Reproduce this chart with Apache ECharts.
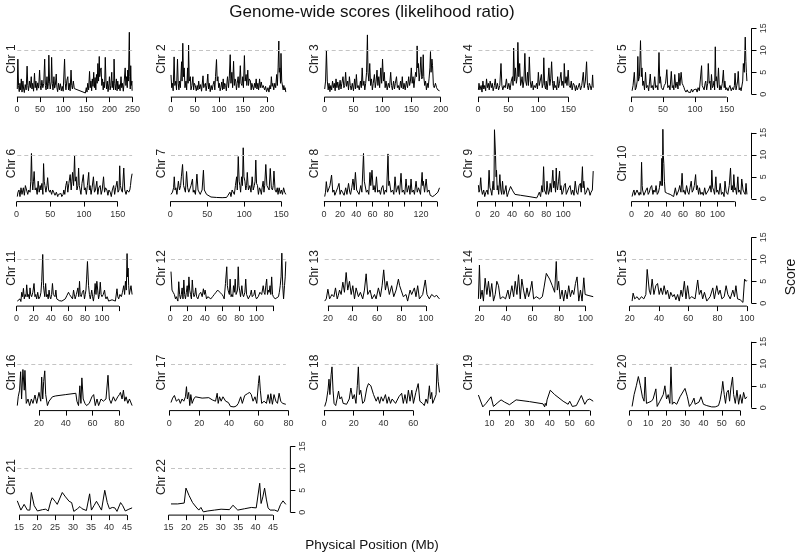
<!DOCTYPE html>
<html><head><meta charset="utf-8">
<script src="https://cdn.jsdelivr.net/npm/echarts@6/dist/echarts.min.js"></script>
<style>html,body{margin:0;padding:0;background:#fff}#c{width:800px;height:555px}</style>
</head><body><div id="c"></div>
<script>
// ---------------- DATA: [position (Mb), score] ----------------
const chr1 = [[0.8,1.2],[2,8],[3.5,2],[5,0.6],[6.5,2.5],[8,1],[9.5,3.5],[11,0.5],[13,3],[14.5,1.2],[16,0.4],[18,2.2],[20,1],[22,6.4],[23.5,2],[25,0.8],[27,3],[29,1.5],[31,4],[32.5,1.2],[34,2.5],[36,0.7],[38,4.8],[39.5,1.5],[41,3],[43,0.9],[45,2.6],[47,1.4],[49,5.5],[50.5,2],[52,1],[54,3.2],[56,1.5],[58,2.5],[60,8],[61.5,2],[63,1],[65,4],[66.5,1.2],[68,2.5],[69,8.9],[70.5,3],[72,1.2],[74,2.8],[75,8.4],[76.5,2.4],[78,1],[80,4],[81.5,1.4],[83,2],[85,4.6],[86.5,1.5],[88,0.6],[90,2.5],[92,1],[94,2.4],[96,0.8],[98,1.8],[100,0.7],[103,8],[104.5,2.5],[106,1],[108,3.2],[110,4],[111.5,1],[113,2.5],[115,0.8],[117,5.5],[118.5,2],[120,1.2],[122,3],[124,1.3],[148,0.3],[150,1.5],[151.5,0.5],[153,2.5],[155,1],[157,5.2],[158.5,1.5],[160,3],[161.5,0.8],[163,3.5],[164.5,1.8],[166,5],[167.5,1.5],[169,3.8],[170.5,1],[172,4.5],[173.5,2.5],[175,7],[176.5,3],[178,8.6],[179,4],[180.5,5.5],[182,6],[183.5,2],[185,3.5],[186.5,1],[188,2.8],[189.5,1.5],[191,8.4],[192.5,3],[194,1.2],[195.5,3],[197,0.6],[199,2.5],[200,4],[201.5,1],[203,2],[205,5],[206,1.5],[207.5,3],[209,1],[210,8],[211.5,2.5],[213,1],[215,3.5],[216.5,0.8],[218,3],[219.5,1.2],[221,2.2],[223,0.8],[225,4],[226.5,1.5],[228,2.5],[230,0.7],[232,3],[234,6],[235.5,2],[237,4],[238.5,1.5],[239.5,5.5],[241,3],[243,14.1],[244,4],[245,1.2],[246,6.5],[247,2],[248.5,3],[249,0.8]];
const chr2 = [[0.5,4.4],[2,1.5],[3.5,2.5],[5,0.8],[7,8.5],[8.5,2],[10.5,3],[12,1],[14,8],[15.5,2.5],[17,1],[18,3],[20,1.5],[22.5,7.4],[23.5,3],[25,11.6],[26.5,4],[28,6],[29.5,1.5],[31.6,3],[33,1],[35,6],[36,2.5],[37,11.2],[38.5,3],[40.7,4],[42,1],[44,2],[46,4],[47.5,1],[49,2.5],[51,2],[53,0.8],[55,2],[56.5,1],[58,3],[60,1.2],[62,2.2],[64,0.7],[67,4.2],[68.5,1.5],[70,2],[72,2.5],[73.5,0.8],[75,2],[77,4.6],[78.5,1.2],[80,2.5],[82,0.6],[84,2],[86,1],[88,2.2],[90,3],[91.5,1],[93,4],[95,7.9],[96.5,3],[98,4],[99.5,1.5],[101,2.5],[102.5,0.8],[104,1.5],[106,2.8],[107.5,1],[109,3.5],[110.5,1.2],[112,2.5],[114,2],[115.5,0.8],[117,3],[118,4],[120,1.5],[121.5,3.5],[123.5,9],[125,2.5],[127,5],[128.5,1.5],[130.5,7.5],[132,2],[133.5,3.5],[135,3],[136.5,1],[138,2.5],[140,4],[141.5,1.5],[143,3],[144.5,6.5],[146,2.5],[148,2],[149.5,4],[151,1.5],[153,8.8],[154.5,3],[156.5,4.5],[158,2],[160,5.5],[161.5,2],[163,3.5],[165.6,3],[167,1],[168.5,2.5],[170.5,2.5],[172,1],[174,2.5],[175.5,1.5],[177.5,3.5],[179,1.2],[181,2.5],[182.5,1],[184.5,3.5],[186,1.5],[188,2.8],[190,1.5],[192,2],[195,1],[197,1.8],[199,0.6],[202,1.5],[204,0.5],[206,2],[207.5,1.2],[209,4],[210.5,1.8],[212,2.5],[214,1],[216,2.5],[218,1.5],[220,4.5],[221.5,2],[223,6],[224.5,12.1],[225.5,5],[226.7,6],[228,2.5],[229,9.3],[230.5,3],[232,3],[233.5,1],[235,2],[236,1],[237.5,1.5],[239,0.5]];
const chr3 = [[0.5,1.2],[2,3],[3.5,9.9],[5,3],[6.5,1],[8,2.5],[9.5,0.6],[11,2],[12.5,1],[14,3],[15.5,1.5],[17,2.5],[18.5,0.8],[20,3.5],[21.5,1.5],[23,2.8],[25,1],[27,3.2],[28.5,1.2],[30,2.5],[32,4],[33.5,1.5],[35,2],[36.5,5],[38,1.8],[40,3],[41.5,1],[43,4],[44.5,2],[46,1],[48,2.5],[50,0.8],[52,3.5],[53.5,1.2],[55,4.5],[56.5,1.5],[58,2],[60,1],[62,3],[63.5,1.5],[65,6],[66.5,2],[68,3],[69.5,1],[71,2.5],[72.5,5],[74,13.5],[75,5],[76.5,3],[78,7],[79.5,2],[81,3.5],[82.5,1],[84,2.5],[86,4.5],[87.5,1.5],[89,3],[90.5,5.5],[92,2],[93.5,4],[95,1.5],[97,6],[98.5,2.5],[100,8],[101.5,3],[103,5],[104.5,1.5],[106,3],[108,1],[110,2.5],[112,1.5],[114,5],[115.5,2],[117,1],[119,3],[120.5,1.2],[122,2.5],[124,4],[125.5,1.5],[127,2],[129,1],[131,3],[132.5,1.5],[134,4],[135.5,1.2],[137,2.5],[139,1],[141,3],[143,1.5],[145,4],[146.5,2],[148,3],[149.5,6],[151,2.5],[152.5,4],[154,1.5],[155.5,3.5],[157,5],[158.5,4],[159.5,11],[160.5,6],[161.6,7],[163,3],[164.5,5],[166,8.5],[167.5,3.5],[169,4],[170,9],[171,4],[172.5,2],[174,3],[175.5,1],[177,2.5],[178.5,1.5],[180,3.5],[181.5,6],[182.5,9.7],[183.5,5],[185,8],[186,6.5],[187.5,2],[189,1.5],[191,2.5],[193,1.5],[195,1],[196.5,1.2],[198,0.8]];
const chr4 = [[0.5,1],[1.5,2.5],[3,1],[5,2],[6.5,0.5],[8,3],[9.5,1.2],[11,2],[12.5,0.8],[14,3.5],[15.5,1.5],[17,2.5],[18.5,1],[20,3],[22,1.5],[23.5,2.5],[25,0.8],[27,2],[28.5,3.5],[30,1.2],[32,2.5],[34,1],[36,2],[38,7],[39.5,2],[41,1],[43,2],[45,1.5],[47,3.5],[49,1.2],[51,2.5],[53,1],[55,3],[57,4],[58,2],[59,10.5],[60.5,3],[62,6],[63.5,2.5],[65,4],[66,11.8],[67.5,4],[69,7],[70.5,2],[72,3],[73,4],[74.5,1.5],[76,3],[77.6,9.3],[79,3],[80.5,2],[82,5],[83.5,2],[85,8.5],[86.5,3],[88,1.5],[90,3],[91.5,1],[93,2],[95,1.5],[97,2.5],[98.5,1.2],[100,5],[101.5,2],[103,3],[105,4.5],[106.5,1.5],[108,2.5],[109,8.3],[110.5,2],[112,1.2],[113,3],[114.5,1],[116,3],[117.5,6],[119,2],[120.5,3.5],[122,7.4],[123.5,2.5],[125,1],[126,3],[127.5,1.5],[129,2],[130.5,1],[132,4],[133.5,1.5],[135,2.5],[137.5,5],[139,2],[140.5,3],[142,1.5],[143,7],[144.5,2.5],[146,4],[147.5,2],[149.5,5.5],[151,2],[153,1.5],[154.6,3],[156,1],[158,2.5],[160,2],[161.5,0.8],[163,2],[164.5,1],[166,1.5],[168,2.5],[170,1],[172,2],[174.6,5],[176,1.5],[178,3],[180,7.4],[181.5,2],[183,1],[184.5,2.5],[186,2],[187.5,1],[189,2],[190,4.4],[191,1.5]];
const chr5 = [[1.5,0.8],[3,2],[5,5],[6.5,1],[8,1.5],[9.5,3],[10.5,8.6],[11.5,3],[13,4],[14.7,12.2],[16,4],[17,6],[18.3,2],[19.5,3],[21,1],[22.6,5],[24,1.5],[26,2],[27.5,0.8],[29,3],[30,4.6],[31.5,1.5],[33,2],[35,1],[37,4],[38.5,1.5],[40.5,2],[42,1],[43.7,9.5],[45,2.5],[45.8,4],[47.5,1.5],[50,1],[52,2],[54,2.5],[56,5.6],[57.5,1.5],[59.5,2],[61,1],[63,5.2],[64.5,1.5],[66,2],[67,1],[68.4,4.5],[70,1.5],[72,2.8],[73.5,1.2],[75,4.8],[76.5,2],[78.4,5],[80,2.5],[81.6,2],[83,1.5],[84,1],[86,0.5],[88,1],[89.5,0.5],[91,0.8],[93,0.4],[94.7,1.2],[96.5,0.5],[98,1],[100,0.8],[102,1.2],[103.5,0.5],[105,1.5],[107,0.8],[109,1],[110.5,6.5],[111.5,2],[113,2],[114.5,1],[116,2.5],[117,3],[118.5,1],[120,2.5],[121,7],[122.5,2.5],[123.7,3],[125,1],[126,4.5],[127.5,1.5],[129,2],[130,3],[131,1],[132,10.8],[133,3],[134,4],[135.5,1.5],[137,6],[138.5,1],[139.5,2],[141,1],[143,2.5],[144.7,5.5],[146,1.5],[147,3],[148.5,1],[150,1.5],[152,0.8],[153.5,1.5],[155,2],[157,0.8],[159,1.5],[160.5,1],[162,2],[163,4.8],[164.5,1],[165.8,2],[167,3],[168,5.2],[169.5,1],[171,1.5],[172.5,0.8],[173.7,0.5],[175,3],[176,7],[177.5,5],[179,13],[180,7.5],[180.8,5],[181.6,3]];
const chr6 = [[1,0.5],[2,1.5],[3.5,2],[5,0.5],[6.5,2.5],[8,1],[10,2.5],[11.5,0.8],[13,3],[15,3],[16.5,1],[18,2],[20,1.5],[21,4],[22,10.3],[23,4],[24,2],[25,4],[26,6.2],[27.5,2],[29,2.5],[30.5,1],[32,4],[33.5,1.5],[35,3],[36,2],[37.5,3.5],[39,1],[40,8],[41,4],[42,3],[43.5,1.5],[45,3],[46,4.8],[47.5,2],[49,1.5],[50,2],[52,1],[53.5,2],[55,1.5],[57,0.8],[59,1.5],[61,0.5],[62,1],[64,0.6],[66,1.2],[67,0.5],[69,1],[70,2],[71.5,1],[73,3],[74.5,4],[76,1.5],[77.5,3.5],[79.5,5.5],[81,2],[82,4],[83,6],[84.5,3],[86,9.7],[87,4],[88.4,5],[89.5,2],[91,3],[92,7],[93,3],[94.4,3],[95.5,1],[97,3.5],[99,5.5],[100.5,2],[102,2.5],[103.5,1],[105,3],[107,6],[108,2],[109,3],[110.5,1],[112,2.5],[114,5],[115.5,1.5],[117,2],[119,4],[120.5,1],[122,2.5],[124,3],[125.5,1],[127,2],[129,5],[130.5,1.5],[132,2.5],[134,2],[135.5,0.8],[137,2],[139,1.5],[140.5,0.5],[142,2],[144,3],[145.5,1],[147,2.5],[149,4],[150.5,1.5],[152,2],[153,7.5],[154,3],[155.5,2],[157,1.5],[159,7],[160.5,2],[162.4,1],[164,2],[166.4,1.5],[168,2],[169,3],[170,4.5],[171.4,5.7]];
const chr7 = [[1,1],[3,1.5],[4.5,2.5],[5.4,5],[6.5,2],[7.6,2.5],[9,1],[11,4],[12.5,2],[14,3],[15,5],[16.6,7.8],[18,3],[19,3],[20.5,1.5],[22,6.2],[23.5,2.5],[25,1.5],[26,2],[28,3],[30,4.5],[31,1.5],[32,2],[34,1],[36,5.6],[37.5,2],[39,2],[40.5,1],[41.6,1.5],[43,2],[44.8,6.5],[46,2],[47,2],[49,1],[51.5,0.6],[55,0.4],[62.7,0.3],[70,0.25],[76,0.3],[78,0.8],[80.6,1.5],[82,0.5],[83.5,2],[85,2],[86.5,1],[88,3],[89.6,5],[90.5,2],[91.8,9.6],[93,4],[94,3],[95,1.5],[96.3,5],[97.5,3],[98.5,11.6],[99.5,5],[100.8,4],[102,2],[103,3],[104,6],[105.5,2],[107.5,3],[109,1.5],[110.6,5],[112,2],[113.5,3],[114.5,4],[115.5,8.8],[116.5,3.5],[117.8,3],[119,1],[120.5,2.5],[121.8,2],[123,1],[124,2.5],[125.4,4],[126.5,1.5],[127.5,3],[129,7.8],[130.5,3],[132,3],[133.5,2],[135,6.9],[136.5,2.5],[138,2],[139,3],[140,6.3],[141.5,2],[143,1.5],[144.5,2.5],[145.5,1],[147,2.5],[148.5,1.2],[150,2],[151.5,1],[153,2.5],[154.5,1.5],[156,1]];
const chr8 = [[1,0.5],[2,1.5],[3,3.9],[4.5,1.5],[6,1.5],[7.5,3],[9.5,5.4],[11,1.5],[12.4,2],[13.5,0.8],[15,1],[17,2.5],[18.7,3.5],[20,1],[21.5,2],[23,1.5],[25,0.8],[27,2.5],[28.5,1],[30.5,3.5],[32,1.5],[33,1],[34.5,2.5],[36,4.5],[37.5,2],[39,6],[40.5,2],[42,2],[43.5,1],[45.6,3],[47,1.5],[49,10.3],[50,4],[51,4],[52.5,1.5],[54,2],[55.5,1],[57,6],[58,3],[59.5,6.5],[61,2],[62,3],[63.5,1.5],[65,5],[66.5,1.5],[68.5,2],[70,1],[71.5,2.5],[73,3],[74.5,1],[76,2],[77.5,1.5],[79.3,10.2],[80.3,3],[81,4],[83,1.5],[85,2],[86.5,1],[88,5],[89.5,1.5],[91,2.5],[92,3],[93.5,1],[95.4,5.8],[96.8,1.5],[98.3,2],[100,1],[101.6,4.5],[103,1.5],[105,3],[106.5,1],[107.8,4.5],[109,1.5],[110.7,2],[112,1],[114,4],[115.5,1.5],[117,2.5],[118,2],[119.5,1],[121.5,6],[122.3,3],[123,4],[124.5,1.5],[126.5,4.5],[128,1.5],[130,2],[131.5,0.8],[132.7,1],[134.5,0.5],[137,0.8],[139,1],[141,1.5],[143,2.5]];
const chr9 = [[0.8,3.1],[1.5,1.5],[2.4,2],[3.5,4.8],[4.5,2],[5.5,1],[7,2],[8.2,0.5],[9.5,1.5],[11,2],[12,1],[13.3,6.5],[14.3,2.5],[15.3,2],[16.5,0.8],[18,4],[19,2],[19.6,15.7],[20.8,10],[21.5,5],[22,6.5],[22.8,2],[23.5,3],[24.5,1],[25.9,5.5],[27,2],[28,1],[29,4],[30,1.5],[30.6,1],[32,2],[33,3],[34,1],[34.5,0.5],[36,1.5],[38.4,2.8],[41,1.8],[43.5,1],[50,0.8],[60,0.5],[69,0.2],[70.5,0.8],[72,1.5],[73.5,0.5],[75,3],[76,1.5],[77,7.3],[78,2],[79,2],[80,1],[81,4],[82,2],[82.7,1],[84,2],[84.7,3.5],[86,1.5],[87.8,6.5],[88.8,2.5],[89.8,4],[91,1.5],[91.8,7],[92.5,3],[93.3,2],[94.5,4],[95.7,6.3],[96.5,2],[97.3,3],[98.5,1],[99.6,1.5],[101,3],[102.4,3.5],[103.5,1],[105,1],[106.5,2.5],[108,3],[109.5,1],[111,2],[112.5,0.8],[114,4],[115.5,1.5],[117,1],[118.5,3],[120,3.5],[121,1.5],[122.4,7.3],[123.2,2.5],[124,4],[125.5,1],[127,1.5],[128.5,2.5],[130,2],[131.3,0.8],[132.5,1.5],[134,2],[135,6.3]];
const chr10 = [[0.8,0.5],[2,1.5],[3,2],[4,0.8],[5,1],[6.5,2],[8,2.4],[9,0.8],[10,1.5],[11,1],[11.8,8.3],[12.5,3],[13,2],[14.5,0.8],[15.7,1],[17,2],[18.4,2.5],[19.5,1],[20.8,1.5],[22,2.5],[23.5,3],[25,1],[26,2],[27.5,1.5],[28.6,3],[30,1],[31.4,1.5],[32.5,2.5],[33.3,4],[34.5,3],[35.3,9.2],[36,3],[36.5,15.8],[37,10],[37.6,8],[38.3,4],[39.2,1.5],[42,1.2],[45,1],[49,0.5],[51,2.5],[52.5,0.8],[53.7,1],[55,2],[56,3],[57.5,1.5],[58.8,5.8],[60,1.5],[60.8,2],[62.5,1],[64,3],[65.5,1.5],[66.7,1],[68,2.5],[69.4,4],[70.5,1.5],[71.8,2],[73,3],[74.5,5.5],[75.5,2],[76.5,3],[78,1],[79,2.5],[80.5,1],[82,1.5],[83.5,0.8],[85,2.5],[86.5,1],[88,1],[89.5,2],[91.4,3],[92.5,1.5],[93.3,6.5],[94.3,2.5],[95.3,2],[96.5,1],[98,5],[99,1.5],[100,2],[101.5,1],[103,3.5],[104.5,1],[106,1.5],[107.5,0.5],[108.6,4],[110,1.5],[111.8,1],[113.5,3],[115,7],[116,2],[117,3],[118,1.5],[118.8,5.5],[120,2],[120.8,2.5],[122,1],[123.5,5],[124.5,1.5],[125.5,2],[127,1],[128,4.5],[129.5,2],[130.6,1.5],[132,1],[133,3.5],[134,1]];
const chr11 = [[0.8,0.5],[2.5,0.8],[4,1],[5,0.4],[6,2.5],[7,1.5],[8,3.4],[9,1],[10,2],[11,1.5],[11.8,4.2],[13,1.5],[13.7,2],[15,1],[15.7,3.5],[16.5,2],[17.6,1.5],[19,2.5],[20.4,4.5],[21.5,1.5],[22.4,2],[23.5,1],[24.7,2.5],[26,1],[27.5,1.5],[28.5,2.5],[29.4,5],[30.6,11.1],[31.5,4],[32,3],[33,1.5],[34,4.5],[35,1.5],[36,2],[37,1],[38,3],[39,1.5],[40,1],[41,2],[42,4.5],[43,2],[44,2],[45,1.5],[46,3],[47,1],[48,1],[50,0.6],[53,0.5],[55,0.7],[57,1],[59,1.8],[60.8,2.5],[62,2],[64,2],[65.5,1],[66.7,3],[68,1.5],[68.6,1],[70,2],[71.8,3.5],[72.8,1.5],[73.7,5],[74.5,2],[75.7,1.5],[77,2.5],[78.4,3],[79.5,1],[80.4,2],[81.2,3],[82,5.5],[83,9.5],[84.3,4],[85.3,2],[86.3,1],[87.2,2],[88,3],[89,1.5],[90,0.5],[91,2],[92,4.5],[93,2],[94,5],[95,3],[96,1],[97,2],[98,4.8],[99,2],[100,1.5],[101.5,2],[103,3],[104,1.5],[104.7,1],[106,1.5],[107.8,0.5],[110,0.7],[111.8,0.8],[114,0.6],[115.7,0.5],[117.6,3.3],[118.5,1.5],[119.6,1],[121,2],[122.7,1.5],[124,2.5],[125.5,4],[126.5,2],[127.5,5],[128.5,3],[129.4,11.3],[130,6],[130.6,8],[131.3,4],[132,2],[133,2],[134,4],[135.3,2]];
const chr12 = [[0.8,7.2],[2,3],[3.3,2.5],[4.7,2],[6,1],[7,1.5],[7.8,1.5],[8.8,0.5],[9.8,4.9],[10.8,2],[11.8,1],[12.8,2],[13.7,3.5],[14.7,1],[15.7,5.3],[16.6,2],[17.6,1],[18.6,2.5],[19.6,4],[20.6,1.5],[21.6,6],[22.5,3],[23.5,2],[24.5,1],[25.5,5.3],[26.5,2.5],[27.5,1.5],[28.5,2],[29.4,3.5],[30.5,1.5],[32,1],[33.5,2],[35.3,2.5],[37,1.5],[38.4,3.3],[39.5,2],[40.4,3],[41.2,2],[42,1],[43.5,1.5],[45,1.3],[47,1],[49,1.5],[51,2],[53,2.5],[55,3],[56,3],[57.5,2.5],[58.8,2.5],[60,2],[61.6,1.5],[62.5,1],[64,4.5],[65.5,8.3],[66.2,4],[67,3],[68.5,2],[69.4,5.5],[70.5,1.5],[71.4,2],[72.5,1.5],[73.3,4],[74.3,2.5],[75.3,5.5],[76.3,2],[77.3,2],[78,3],[78.8,8.3],[79.6,4],[80.4,3],[81.5,1.5],[83,4],[84,2],[85,1.5],[86.5,2.5],[87.5,5.5],[88.5,2],[89.4,2],[90.5,1],[92,1],[93,2],[94,3],[95,1.5],[96,1.5],[97,2],[98,3],[99,1.5],[100,1],[102,1.5],[104,2.5],[106,2],[107.8,4],[108.8,2.5],[109.8,2],[110.8,4],[111.8,5.5],[112.8,2],[113.7,3],[114.7,2.5],[115.7,4],[116.6,2],[117.6,6],[118.6,2],[119.6,1.5],[121.6,1],[123.5,1.3],[125.5,1.5],[126.5,2.5],[127.5,4],[128.5,6],[129.4,11.4],[130.4,4],[131.4,1],[132.5,4],[133.3,6],[134,9.5]];
const chr13 = [[17.4,0.5],[18.7,1],[20,3.2],[21.4,1],[22.3,1.5],[23.3,2],[24.9,1.5],[26.2,3.5],[27.6,1],[28.5,1.8],[29.5,3],[30.8,2],[32.2,4.8],[33.5,2.5],[34.9,7],[36.2,3],[37.6,5],[39,2],[40.3,4],[41.7,1],[43,3.5],[44.9,1.5],[46.5,2.5],[48.4,1],[49.8,3],[51.2,6.7],[52.5,2],[54.4,3],[56,1],[58,2],[59.3,1],[61.2,3.5],[62.8,1.5],[64.2,4],[65.5,7.6],[66.9,3],[68.2,5],[70.1,2],[72,4],[73.7,1.5],[75.6,3],[77.5,5.5],[78.5,4],[79.7,3],[81.5,1.5],[83.7,2],[85,0.5],[87,3],[88.3,2],[90.5,3.5],[91.8,1.5],[93.2,4],[94.6,1],[96,1.5],[97.3,2],[99.4,5.3],[100.8,2],[102.7,1],[104.6,2],[106.8,1.5],[108.7,1.8],[110.3,1.2],[111,1]];
const chr14 = [[19.2,1],[20,8.7],[20.8,1],[22,3],[23,0.5],[24.3,5.7],[25.6,2],[26.8,5],[28,1.5],[29.3,4.5],[30.6,0.5],[31.9,2],[33.1,5],[34.4,4],[35.7,1],[37.7,1.5],[39.7,1],[41.5,3],[42.7,1],[44.5,4],[45.8,1.5],[47,5],[48.3,2],[49.5,6.5],[50.8,1],[52,5.5],[53.3,3],[54.6,1],[55.9,3.5],[57.1,1.5],[58.4,3],[59.6,5],[60.9,1],[62.9,1.5],[65.5,1],[67.5,1.5],[68.7,3.5],[70.5,6.8],[73,5.5],[75,4],[76.8,2.5],[78,9.5],[78.8,3],[79.8,5],[81,1],[82.4,3],[83.6,0.5],[84.9,3],[86.2,1],[87.4,4],[88.7,1.5],[90,3],[91.2,2],[92.5,4.5],[93.7,6],[95,0.5],[96.3,3],[97.5,0.5],[98.8,5.8],[99.8,2],[102,1.8],[105.9,1.5]];
const chr15 = [[21.6,0.5],[22.3,2.3],[23.4,1],[25,1.5],[26.4,0.8],[28,1.5],[29.6,1],[31,2],[31.9,7.7],[33.3,3],[34.2,2],[35.3,5.5],[36.5,2],[37.8,4],[39,4.5],[40.1,2],[41.3,3.5],[42.4,2],[43.5,4],[44.7,2],[45.8,3],[47,1],[48,2.5],[49.3,1.5],[50.4,2],[51.5,0.8],[52.7,2],[53.8,0.5],[55,3],[56,1.5],[57.3,5],[58.4,1],[59.5,4],[60.7,1],[62.3,1.5],[64.6,1],[66.4,5.3],[67.5,2],[68.7,3],[69.8,1],[71,2.5],[72.6,0.5],[74.9,1.5],[76.7,3.5],[77.8,1],[79.4,4],[80.6,2],[81.7,3],[82.9,1],[84.5,1.5],[85.8,4],[87,2],[88.6,1],[90.4,3],[91.5,1.5],[92.5,4],[93.6,1],[95.4,0.8],[97.3,0.2],[98.4,5.5],[99.5,5],[100,5.2]];
const chr16 = [[3.8,0.5],[4.5,2.5],[5.5,4],[6.3,8.2],[7,2],[8,8.7],[9,4],[9.5,8.5],[10.5,1],[11.8,2],[13,0.5],[14.3,2],[15.5,1],[17,2.9],[18.3,1],[20,3.5],[21.3,1.5],[22,7],[22.8,2],[23.5,6],[24.3,8.4],[25,3],[26.3,0.5],[27.5,1.5],[30,2.5],[32.5,2.7],[40,3],[47.5,3.3],[48.3,1.5],[49.5,0.5],[50.5,5],[51.3,1],[52,6.8],[53,2],[54.3,1],[55.5,0.5],[57.5,1],[59.5,2.5],[60.8,3],[62,0.5],[63.3,2],[64.5,0.5],[66.3,2],[68,1.5],[70,2],[71.5,7.4],[72.5,2],[73.8,1],[75.5,2.5],[77,1.5],[78.8,2.5],[80,3],[80.8,3.5],[82,2],[83,4],[84,1.5],[85,2.5],[86.3,1],[87.5,2],[89.5,0.5]];
const chr17 = [[1.1,1.2],[2.2,2.2],[3.4,2.8],[4.7,1.5],[6.3,2],[7.4,1],[8.5,2],[9.7,1.5],[10.8,2.5],[11.5,4.8],[12.1,2],[13,3.5],[13.7,0.5],[14.4,3],[15.3,1],[16.4,2],[17.5,2.5],[22,2.2],[26.5,2.3],[28.8,1.8],[31,1.5],[32.1,3.3],[32.8,1],[33.7,2.5],[34.8,1.5],[36,2.5],[37.8,1.5],[39.6,1.2],[41.1,0.3],[43.4,0.2],[45,0.4],[46.3,1],[47.9,2.5],[49,1],[50.6,2.8],[52.4,3.2],[53.9,3.5],[55,3],[56.2,1.5],[57.5,2.5],[58.7,1],[59.8,5.5],[60.4,7.3],[61.1,4],[62,1],[63.6,1.5],[65.2,1],[66.3,3],[67.4,1],[68.1,3.2],[69.2,0.8],[70.3,3],[71.5,1.5],[72.6,1],[73.7,3.3],[74.8,1.5],[76,1],[78.2,0.8]];
const chr18 = [[0.5,0.3],[1.6,1.5],[2.7,4],[3.4,6.5],[4,3],[4.8,7.5],[5.4,9.3],[6.1,4],[6.8,1],[7.9,0.5],[8.8,2],[9.8,3.8],[10.7,2],[11.8,2.5],[12.9,1],[15.2,0.8],[17,2],[18.1,4.5],[19.3,2],[20.4,3],[21.5,1],[22.4,5],[23.1,9.3],[23.8,3],[24.7,4],[26,1],[27.2,1.5],[28.8,4.5],[29.9,5.5],[31.5,5],[33.3,3],[35.1,1.5],[36.3,2.5],[37.4,1],[38.5,2.5],[39.7,1.5],[41.3,3],[42.4,1],[43.5,2.5],[44.7,1],[45.8,2],[48.1,1],[50.3,2.5],[52.2,3.3],[53.3,1],[54.4,3],[55.6,1],[56.7,4],[57.8,1.5],[59,4],[60.1,1],[61.7,3.5],[63.3,5.5],[64.4,1.5],[66.2,1],[67.4,0.5],[68.5,2],[69.6,1],[70.8,5],[71.5,2],[72.4,3.5],[73,1],[74.2,2],[75.3,3],[76,10],[76.7,6],[77.6,3.5]];
const chr19 = [[4.5,2.9],[6.7,0.2],[8.3,1],[10.8,2.5],[12,0.3],[14.2,1.2],[15.8,1.8],[17.5,1.3],[20,0.7],[23.3,1.8],[30,1.4],[36.7,0.9],[37.5,0.2],[37.8,1],[38.3,0.5],[38.7,1.8],[39.5,1.5],[40.3,4],[42.5,3],[46.7,1.5],[49.2,0.8],[50,1.5],[51.3,0.3],[53.3,0.5],[55.8,2.8],[57.5,0.8],[58.8,1.8],[60,2],[61.7,1.5]];
const chr20 = [[1.3,0.3],[2.4,3],[3.6,5],[4.7,7.1],[5.8,5],[6.9,2.5],[7.8,1.5],[8.4,7],[9.1,1],[10,0.8],[11.8,1.5],[12.7,2],[14.2,4.3],[14.9,0.3],[16.4,1.5],[18.2,3],[19.1,5],[20,2],[20.9,3],[21.8,1],[22.4,9.3],[23.1,0.8],[24,1.3],[25.5,0.8],[27.3,2.5],[30,4.4],[31.3,2.5],[32.4,0.3],[33.6,1],[34.9,2.2],[35.5,0.8],[36.4,1],[37.6,1.3],[38.7,2.5],[40,0.8],[41.8,0.5],[44.5,0.2],[46.4,0.2],[48.2,0.5],[49.1,1.8],[50,4],[50.5,6],[51.3,3],[52,1],[52.7,3.5],[53.5,4],[54.2,1.5],[54.9,4.5],[55.8,7],[56.4,3],[57.3,1],[58.2,4],[59.1,0.8],[60,3],[60.9,1],[61.8,3.5],[62.7,2],[63.6,2.5]];
const chr21 = [[14.5,2.6],[15.5,0.5],[16.4,1.8],[17.3,0.5],[18,0.5],[18.4,4.5],[19.2,1.5],[20.1,0.3],[21.5,0.6],[22.4,0.7],[23.1,0.3],[23.8,2.5],[24.2,3.3],[25,2.5],[25.6,1.8],[26.1,2],[27,4.5],[27.9,3.5],[28.9,2.5],[29.6,2.2],[30.2,0.2],[31.2,0.8],[31.9,1.3],[32.5,0.8],[33.7,0.4],[34.6,4.2],[35.1,0.5],[35.8,1.5],[36.5,2.5],[37.2,1.5],[37.9,0.5],[38.8,5],[39.5,2.2],[40.1,0.8],[40.9,1.1],[41.6,1],[42.2,0.2],[43.2,2.2],[43.8,1.5],[44.5,0.3],[45.5,0.7],[46.4,1]];
const chr22 = [[15.7,1.9],[17.6,1.9],[19.5,2.1],[20,5.5],[20.9,3.8],[21.9,2.2],[22.9,1.2],[23.7,0.5],[24.3,1.1],[25,0.1],[26.3,0.3],[28.2,0.5],[30.1,0.7],[32.5,0.6],[33.5,1.6],[34.9,0.5],[36.8,0.8],[38.8,1.1],[40.2,1],[40.7,0.8],[41.2,6.6],[41.6,2],[42.1,3.5],[42.6,5.5],[43.1,3],[43.6,1],[44.2,0.5],[45.5,0.5],[46.4,0.2],[47.2,1.8],[47.9,2.6],[48.7,1.8]];

const chromosomes = [chr1,chr2,chr3,chr4,chr5,chr6,chr7,chr8,chr9,chr10,chr11,chr12,chr13,chr14,chr15,chr16,chr17,chr18,chr19,chr20,chr21,chr22];
const chrLabels = ['Chr 1','Chr 2','Chr 3','Chr 4','Chr 5','Chr 6','Chr 7','Chr 8','Chr 9','Chr 10','Chr 11','Chr 12','Chr 13','Chr 14','Chr 15','Chr 16','Chr 17','Chr 18','Chr 19','Chr 20','Chr 21','Chr 22'];

// tick positions drawn on each panel's x axis, and the labels actually printed
const xTicks = [
  [0,50,100,150,200,250],[0,50,100,150,200],[0,50,100,150,200],[0,50,100,150],[0,50,100,150],
  [0,50,100,150],[0,50,100,150],[0,20,40,60,80,100,120,140],[0,20,40,60,80,100,120],[0,20,40,60,80,100,120],
  [0,20,40,60,80,100,120],[0,20,40,60,80,100,120],[20,40,60,80,100],[20,40,60,80,100],[20,40,60,80,100],
  [20,40,60,80],[0,20,40,60,80],[0,20,40,60],[10,20,30,40,50,60],[0,10,20,30,40,50,60],
  [15,20,25,30,35,40,45],[15,20,25,30,35,40,45]
];
const xTickLabels = [
  [0,50,100,150,200,250],[0,50,100,150,200],[0,50,100,150,200],[0,50,100,150],[0,50,100,150],
  [0,50,100,150],[0,50,100,150],[0,20,40,60,80,120],[0,20,40,60,80,100],[0,20,40,60,80,100],
  [0,20,40,60,80,100],[0,20,40,60,80,100],[20,40,60,80,100],[20,40,60,80,100],[20,40,60,80,100],
  [20,40,60,80],[0,20,40,60,80],[0,20,40,60],[10,20,30,40,50,60],[0,10,20,30,40,50,60],
  [15,20,25,30,35,40,45],[15,20,25,30,35,40,45]
];
const yTicks = [0,5,10,15];
const threshold = 10;
const rightAxisPanels = [4,9,14,19,21];

const titleText = 'Genome-wide scores (likelihood ratio)';
const xAxisTitle = 'Physical Position (Mb)';
const yAxisTitle = 'Score';

// ---------------- LAYOUT ----------------
const COL_LEFT = [12.7, 166.4, 320.1, 473.8, 627.5];
const ROW_BOTTOM = [97.1, 201.6, 306.1, 410.6, 515.1];
const PANEL_W = 124, PANEL_H = 76;
const Y_MIN = -0.64, Y_MAX = 16.64;
const FONT = '"Liberation Sans", Arial, Helvetica, sans-serif';

const grid = [], xAxis = [], yAxis = [], series = [], graphic = [];
chromosomes.forEach((d, i) => {
  const col = i % 5, row = Math.floor(i / 5);
  const left = COL_LEFT[col], bottom = ROW_BOTTOM[row];
  grid.push({left: left, top: bottom - PANEL_H, width: PANEL_W, height: PANEL_H});
  const xs = d.map(p => p[0]);
  const mn = Math.min(...xs), mx = Math.max(...xs), pad = 0.04 * (mx - mn);
  xAxis.push({
    type: 'value', gridIndex: i, min: mn - pad, max: mx + pad, position: 'bottom',
    axisLine: {show: false, onZero: false}, splitLine: {show: false},
    axisTick: {show: true, length: 5, customValues: xTicks[i], lineStyle: {color: '#000', width: 1}},
    axisLabel: {customValues: xTickLabels[i], fontSize: 9, color: '#333', margin: 8, fontFamily: FONT, hideOverlap: false}
  });
  const right = rightAxisPanels.includes(i);
  yAxis.push({
    type: 'value', gridIndex: i, min: Y_MIN, max: Y_MAX, position: 'right', show: right,
    axisLine: {show: false, onZero: false}, splitLine: {show: false},
    axisTick: {show: true, length: 5, customValues: yTicks, lineStyle: {color: '#000', width: 1}},
    axisLabel: {customValues: yTicks, rotate: 90, fontSize: 9, color: '#333', margin: 8, fontFamily: FONT}
  });
  series.push({
    type: 'line', xAxisIndex: i, yAxisIndex: i, data: d, symbol: 'none', silent: true,
    lineStyle: {color: '#000', width: 1}, animation: false,
    markLine: {silent: true, symbol: 'none', label: {show: false}, animation: false,
      lineStyle: {color: '#c4c4c4', type: [4, 3], width: 1},
      data: [[{coord: [mn, threshold]}, {coord: [mx, threshold]}]]}
  });
  const t = xTicks[i];
  series.push({type: 'line', xAxisIndex: i, yAxisIndex: i, symbol: 'none', silent: true, clip: false, animation: false,
    data: [[t[0], Y_MIN], [t[t.length - 1], Y_MIN]], lineStyle: {color: '#000', width: 1}});
  if (right) {
    series.push({type: 'line', xAxisIndex: i, yAxisIndex: i, symbol: 'none', silent: true, clip: false, animation: false,
      data: [[mx + pad, yTicks[0]], [mx + pad, yTicks[yTicks.length - 1]]], lineStyle: {color: '#000', width: 1}});
  }
  graphic.push({type: 'text', x: Math.max(left - 5, 11.5), y: bottom - PANEL_H / 2, rotation: Math.PI / 2, silent: true,
    style: {text: chrLabels[i], font: '12px ' + FONT, fill: '#222', textAlign: 'center', textVerticalAlign: 'middle', align: 'center', verticalAlign: 'middle'}});
});
graphic.push({type: 'text', x: 372, y: 12, silent: true,
  style: {text: titleText, font: '17px ' + FONT, fill: '#111', textAlign: 'center', textVerticalAlign: 'middle', align: 'center', verticalAlign: 'middle'}});
graphic.push({type: 'text', x: 372, y: 545, silent: true,
  style: {text: xAxisTitle, font: '13.5px ' + FONT, fill: '#111', textAlign: 'center', textVerticalAlign: 'middle', align: 'center', verticalAlign: 'middle'}});
graphic.push({type: 'text', x: 791, y: 277, rotation: Math.PI / 2, silent: true,
  style: {text: yAxisTitle, font: '14px ' + FONT, fill: '#111', textAlign: 'center', textVerticalAlign: 'middle', align: 'center', verticalAlign: 'middle'}});

const chart = echarts.init(document.getElementById('c'), null, {renderer: 'canvas'});
chart.setOption({animation: false, backgroundColor: '#fff', grid, xAxis, yAxis, series, graphic});
</script></body></html>
